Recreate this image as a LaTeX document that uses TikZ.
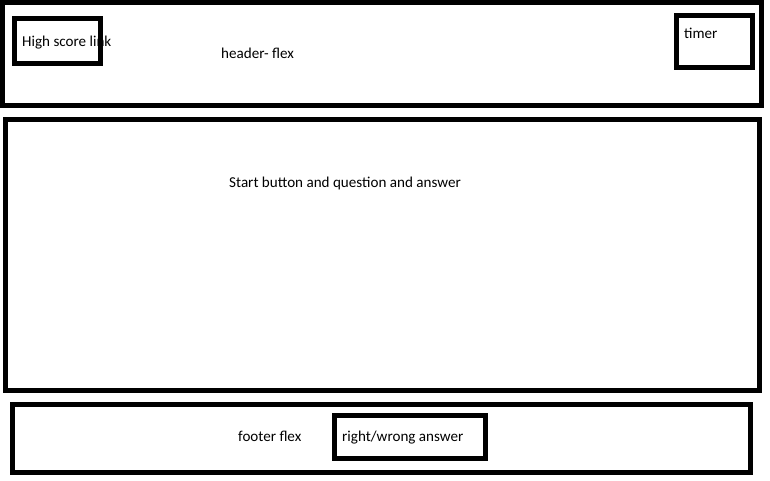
\documentclass[tikz,border=0pt]{standalone}
\usepackage{fontspec}
\setmainfont{Carlito}
\begin{document}
\begin{tikzpicture}[x=1pt,y=-1pt,
  box/.style={draw=black,line width=5pt,inner sep=0pt,outer sep=0pt,fill=none},
  lbl/.style={anchor=base west,inner sep=0pt,font=\fontsize{15.1}{18}\selectfont,text=black}]
\useasboundingbox[fill=white] (0,0) rectangle (770,481);
% header
\node[box,minimum width=759pt,minimum height=103pt] (header) at (382,54) {};
\node[box,minimum width=86pt,minimum height=45pt] (hs) at (57.5,41) {};
\node[box,minimum width=76pt,minimum height=52pt] (timer) at (714.5,41.5) {};
\node[lbl] (hstxt) at (22,47) {High score link};
\node[lbl] (headertxt) at (221,59) {header- flex};
\node[lbl] (timertxt) at (684,39) {timer};
% main
\node[box,minimum width=754pt,minimum height=271pt] (main) at (382.5,255) {};
\node[lbl] (maintxt) at (229,187) {Start button and question and answer};
% footer
\node[box,minimum width=738pt,minimum height=68pt] (footer) at (381.5,438.5) {};
\node[box,minimum width=151pt,minimum height=43pt] (rw) at (410,437) {};
\node[lbl] (footertxt) at (238,441) {footer flex};
\node[lbl] (rwtxt) at (342,441) {right/wrong answer};
\end{tikzpicture}
\end{document}
